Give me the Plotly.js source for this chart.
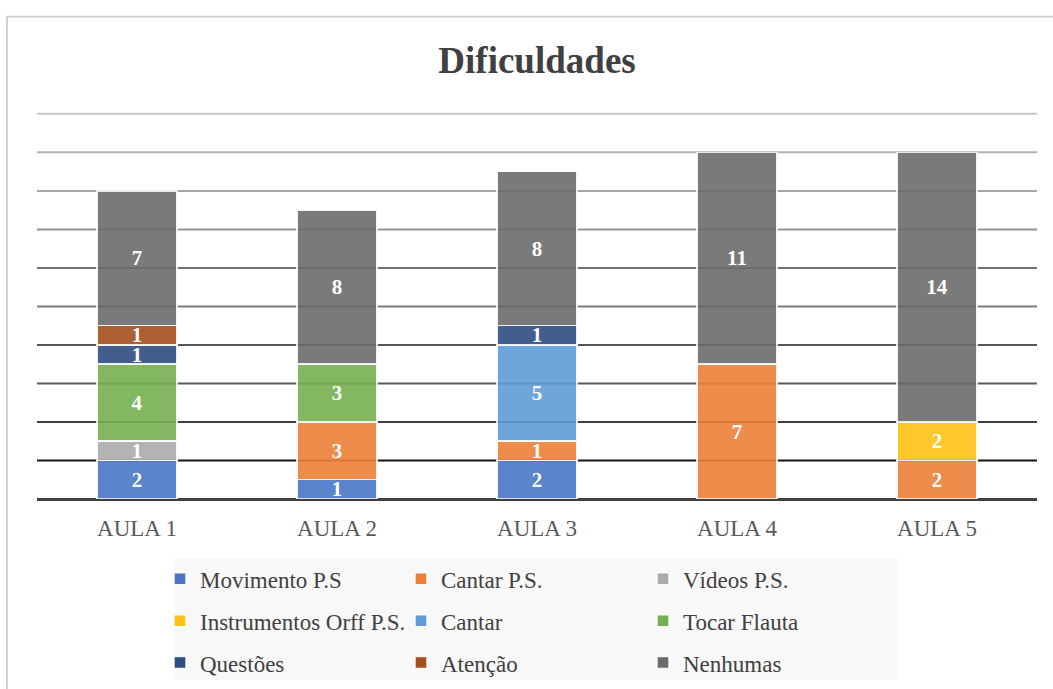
<!DOCTYPE html>
<html>
<head>
<meta charset="utf-8">
<script src="https://cdn.plot.ly/plotly-3.0.1.min.js"></script>
<style>html,body{margin:0;padding:0;background:#fff;}#chart{width:1053px;height:689px;}</style>
</head>
<body>
<div id="chart"></div>
<script>
const categories = ["AULA 1", "AULA 2", "AULA 3", "AULA 4", "AULA 5"];
const seriesNames = ["Movimento P.S", "Cantar P.S.", "Vídeos P.S.", "Instrumentos Orff P.S.", "Cantar", "Tocar Flauta", "Questões", "Atenção", "Nenhumas"];
const movimentoPS = [2, 1, 2, 0, 0];
const cantarPS = [0, 3, 1, 7, 2];
const videosPS = [1, 0, 0, 0, 0];
const instrumentosOrffPS = [0, 0, 0, 0, 2];
const cantar = [0, 0, 5, 0, 0];
const tocarFlauta = [4, 3, 0, 0, 0];
const questoes = [1, 0, 1, 0, 0];
const atencao = [1, 0, 0, 0, 0];
const nenhumas = [7, 8, 8, 11, 14];
const seriesValues = [movimentoPS, cantarPS, videosPS, instrumentosOrffPS, cantar, tocarFlauta, questoes, atencao, nenhumas];

// styling
const colors = ["#5b85cc", "#ef8d4c", "#b3b3b3", "#ffc72c", "#6fa6da", "#84b863", "#445f8d", "#ad6133", "#7b7b7b"];
const legendColumn = [1, 2, 3, 1, 2, 3, 1, 2, 3];
const gridColors = ["#151515", "#404040", "#5a5a5a", "#555555", "#7a7a7a", "#737373", "#929292", "#a6a6a6", "#b2b2b2", "#c6c6c6"];
const BAR_ALPHA = 0.9;

function underColor(hex, a) {
  const n = parseInt(hex.slice(1), 16);
  const ch = [(n >> 16) & 255, (n >> 8) & 255, n & 255].map(c => Math.max(0, Math.min(255, Math.round((c - (1 - a) * 255) / a))));
  return "rgb(" + ch.join(",") + ")";
}

const serif = "Liberation Serif, Times New Roman, serif";
const traces = seriesNames.map((name, i) => ({
  type: "bar",
  name: name,
  x: categories,
  y: seriesValues[i].map(v => v === 0 ? null : v),
  marker: { color: underColor(colors[i], BAR_ALPHA), opacity: BAR_ALPHA,
            line: { color: "rgba(255,255,255,0.9)", width: 1.5 } },
  texttemplate: "%{y}",
  textposition: "inside",
  insidetextanchor: "middle",
  textangle: 0,
  constraintext: "none",
  textfont: { family: serif, size: 21, color: "#ffffff", weight: "bold" },
  legend: legendColumn[i] === 1 ? "legend" : "legend" + legendColumn[i],
  legendgroup: "g" + i,
  hoverinfo: "x+y+name"
}));

const legendBase = {
  orientation: "v", traceorder: "grouped", tracegroupgap: 9, yanchor: "top", xanchor: "left",
  y: -0.150, bgcolor: "rgba(0,0,0,0)", itemwidth: 30,
  font: { family: serif, size: 23, color: "#404040" }
};

const shapes = [
  { type: "rect", xref: "paper", yref: "paper", x0: 0.138, x1: 0.861, y0: -0.4653, y1: -0.1517,
    fillcolor: "#f8f8f8", line: { width: 0 }, layer: "below" },
  { type: "line", xref: "paper", yref: "paper", x0: -0.03, x1: -0.03, y0: -0.5, y1: 1.24,
    line: { color: "#d0d0d0", width: 2 } },
  { type: "line", xref: "paper", yref: "paper", x0: -0.03, x1: 1.02, y0: 1.24, y1: 1.24,
    line: { color: "#d0d0d0", width: 2 } }
];
gridColors.forEach((c, k) => {
  const v = 2 * (k + 1);
  shapes.push({ type: "line", xref: "paper", yref: "y", x0: 0, x1: 1, y0: v, y1: v,
                line: { color: c, width: 2 }, layer: "below" });
});

const layout = {
  width: 1053, height: 689,
  paper_bgcolor: "#ffffff", plot_bgcolor: "rgba(0,0,0,0)",
  margin: { l: 37, r: 16, t: 110, b: 190, autoexpand: false },
  barmode: "stack",
  bargap: 0.6,
  title: { text: "<b>Dificuldades</b>", x: 0.51, xanchor: "center", y: 0.913, yanchor: "middle",
           font: { family: serif, size: 37, color: "#404040" } },
  xaxis: { showgrid: false, ticks: "", showline: false, zeroline: false,
           tickfont: { family: serif, size: 23, color: "#595959" }, ticklabelstandoff: 13 },
  yaxis: { range: [0, 20.2], dtick: 2, showticklabels: false, ticks: "",
           showgrid: false,
           zeroline: true, zerolinecolor: "#404040", zerolinewidth: 3, showline: false },
  showlegend: true,
  legend: Object.assign({}, legendBase, { x: 0.123 }),
  legend2: Object.assign({}, legendBase, { x: 0.364 }),
  legend3: Object.assign({}, legendBase, { x: 0.606 }),
  shapes: shapes
};

Plotly.newPlot("chart", traces, layout, { displayModeBar: false, staticPlot: true });
</script>
</body>
</html>
